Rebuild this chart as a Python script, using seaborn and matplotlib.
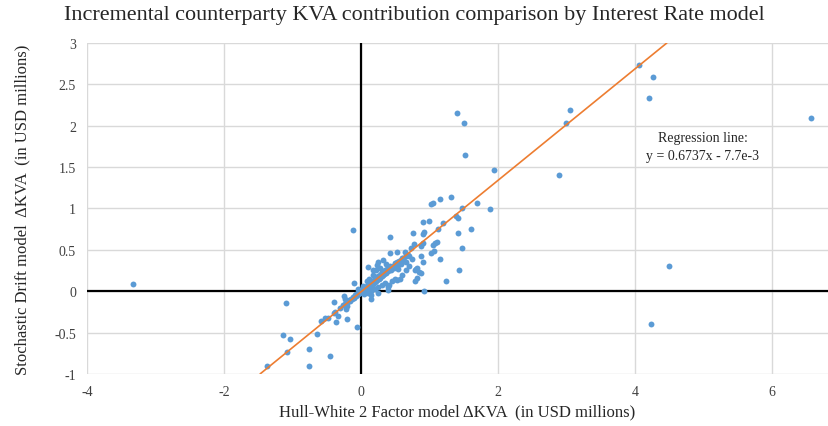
import seaborn as sns
import matplotlib.pyplot as plt
import pandas as pd

# Hull-White 2F dKVA (x) vs Stochastic Drift dKVA (y)
hw2f_kva = [
    -3.33, -0.12, 1.40, 1.50, 1.52, 1.94, 2.89, 2.99, 3.05, 4.06, 4.26, 4.20, 6.57, 4.50, 4.23, -1.37,
    1.15, 1.32, 1.02, 1.05, 1.47, 1.70, 1.89, 1.38, 1.41, 0.905, 0.99, 1.19, 1.60, 1.13, 1.42,
    0.76, 0.90, 0.915, 0.43, 1.11, 1.08, 1.05, 0.77, 0.87, 0.90, 0.73, 1.48, 0.43, 0.53,
    0.75, 0.88, 0.90, 1.15, 1.02, 1.06, 0.81, 0.79, 0.87, 1.43, 0.79, 1.24, 0.915,
    0.10, 0.32, 0.66, 0.52, 0.57, 0.52, -0.10, 0.41, 0.40, 0.81, 0.80, 0.84, 0.53, 0.54,
    0.25, 0.36, 0.18, 0.24, 0.15,
    -0.39, -0.25, -0.23, -0.21, -0.22, -0.40, -0.33, -0.21, -0.37, -0.59, -0.06,
    -1.09, -1.14, -1.04, -1.08, -0.755, -0.76, -0.46, -0.64, -0.52, -0.48, -0.38,
    0.62, 0.68, 0.70, 0.64, 0.58, 0.70, 0.65, 0.60,
    -0.30, -0.27, -0.24, -0.22, -0.20, -0.18, -0.16, -0.15, -0.13, -0.12, -0.10, -0.09,
    -0.08, -0.07, -0.06, -0.05, -0.04, -0.03, -0.02, -0.01, 0.00, 0.01, 0.02, 0.03,
    0.04, 0.05, 0.06, 0.07, 0.08, 0.09, 0.10, 0.11, 0.12, 0.13, 0.14, 0.15, 0.16, 0.17,
    0.18, 0.19, 0.20, 0.21, 0.22, 0.23, 0.24, 0.25, 0.26, 0.27, 0.28, 0.29, 0.30, 0.31,
    0.32, 0.33, 0.34, 0.35, 0.36, 0.38, 0.40, 0.42, 0.44, 0.46, 0.48, 0.50, 0.52, 0.55,
    0.58, 0.60, 0.63, 0.66,
    0.05, 0.10, 0.15, 0.20, 0.25, 0.30, 0.35, 0.40, 0.45, 0.50, 0.12, 0.18, 0.22, 0.28,
    0.08, 0.03, -0.05, 0.15, 0.25,
]
sd_kva = [
    0.085, 0.74, 2.15, 2.03, 1.64, 1.46, 1.40, 2.03, 2.19, 2.73, 2.59, 2.34, 2.09, 0.30, -0.40, -0.91,
    1.12, 1.14, 1.05, 1.06, 1.01, 1.06, 0.99, 0.91, 0.88, 0.84, 0.85, 0.83, 0.75, 0.75, 0.70,
    0.70, 0.69, 0.71, 0.66, 0.60, 0.58, 0.56, 0.57, 0.55, 0.58, 0.52, 0.52, 0.46, 0.47,
    0.39, 0.42, 0.35, 0.39, 0.46, 0.49, 0.28, 0.26, 0.22, 0.25, 0.12, 0.12, 0.00,
    0.29, 0.38, 0.35, 0.35, 0.15, 0.13, 0.10, 0.08, 0.01, 0.165, 0.27, 0.23, 0.29, 0.27,
    0.35, 0.33, 0.25, 0.32, -0.09,
    -0.125, -0.06, -0.10, -0.185, -0.22, -0.26, -0.30, -0.34, -0.37, -0.36, -0.435,
    -0.14, -0.535, -0.58, -0.73, -0.70, -0.91, -0.78, -0.52, -0.33, -0.32, -0.25,
    0.40, 0.44, 0.42, 0.47, 0.38, 0.30, 0.25, 0.20,
    -0.20, -0.17, -0.15, -0.13, -0.14, -0.11, -0.12, -0.09, -0.10, -0.07, -0.08, -0.05,
    -0.06, -0.04, -0.05, -0.02, -0.03, -0.01, -0.02, 0.00, -0.01, 0.01, 0.00, 0.02,
    0.01, 0.03, 0.02, 0.05, 0.03, 0.06, 0.04, 0.07, 0.05, 0.09, 0.06, 0.10, 0.08, 0.12,
    0.09, 0.13, 0.11, 0.15, 0.12, 0.17, 0.14, 0.18, 0.15, 0.20, 0.16, 0.21, 0.18, 0.23,
    0.19, 0.24, 0.21, 0.26, 0.22, 0.27, 0.24, 0.30, 0.26, 0.31, 0.28, 0.34, 0.30, 0.36,
    0.33, 0.40, 0.37, 0.42,
    -0.03, -0.02, 0.00, 0.03, 0.05, 0.08, 0.10, 0.05, 0.12, 0.15, 0.15, 0.20, 0.25, 0.28,
    0.12, 0.06, 0.03, -0.05, -0.02,
]

slope = 0.6737
intercept = -7.7e-3

df = pd.DataFrame({"hw2f": hw2f_kva, "sd": sd_kva})

sns.set_style("white")
plt.rcParams["font.family"] = ["Liberation Serif", "DejaVu Serif"]
plt.rcParams["axes.unicode_minus"] = False

fig = plt.figure(figsize=(8.29, 4.27), dpi=100)
ax = fig.add_axes([0.105, 0.122, 0.894, 0.775])

ax.set_xlim(-4, 6.82)
ax.set_ylim(-1, 3)
ax.set_xticks([-4, -2, 0, 2, 4, 6])
ax.set_yticks([-1, -0.5, 0, 0.5, 1, 1.5, 2, 2.5, 3])
ax.set_yticklabels(["-1", "-0.5", "0", "0.5", "1", "1.5", "2", "2.5", "3"])
ax.grid(True, color="#D9D9D9", linewidth=1)
ax.set_axisbelow(True)
for s in ax.spines.values():
    s.set_visible(False)
ax.tick_params(length=0, labelsize=10, colors="#404040", pad=8)

ax.axhline(0, color="black", linewidth=1.6, zorder=1)
ax.axvline(0, color="black", linewidth=1.6, zorder=1)

sns.scatterplot(data=df, x="hw2f", y="sd", ax=ax, s=18, color="#5B9BD5",
                linewidth=0, zorder=3)
ax.axline((0, intercept), slope=slope, color="#ED7D31", linewidth=1.2, zorder=4)

ax.text(4.99, 1.75, "Regression line:\ny = 0.6737x - 7.7e-3", ha="center", va="center",
        fontsize=10, color="#262626", linespacing=1.55)

ax.set_xlabel("Hull-White 2 Factor model ΔKVA  (in USD millions)", fontsize=12, labelpad=4)
ax.set_ylabel("Stochastic Drift model  ΔKVA  (in USD millions)", fontsize=12, labelpad=17)
fig.suptitle("Incremental counterparty KVA contribution comparison by Interest Rate model",
             fontsize=15.9, x=0.5, y=0.985)

fig.savefig("out.png", dpi=100)
